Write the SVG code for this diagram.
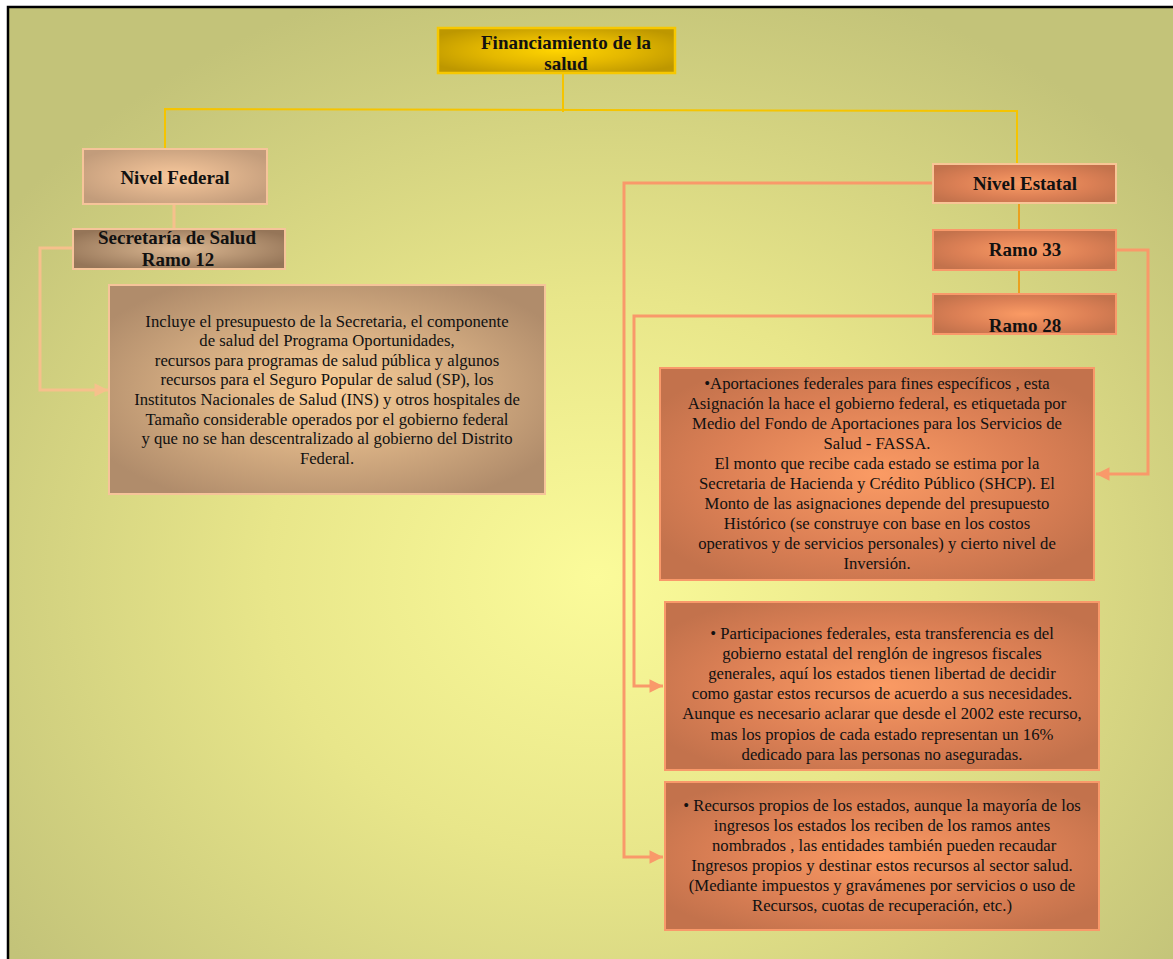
<svg xmlns="http://www.w3.org/2000/svg" width="1173" height="959" viewBox="0 0 1173 959">
  <defs>
    <radialGradient id="bg" cx="0.5" cy="0.57" r="0.62" fx="0.49" fy="0.57">
      <stop offset="0" stop-color="#fbfb9a"/>
      <stop offset="0.45" stop-color="#e8e68a"/>
      <stop offset="1" stop-color="#c3c379"/>
    </radialGradient>
    <radialGradient id="gold" cx="0.5" cy="0.5" r="0.6">
      <stop offset="0" stop-color="#ffd400"/>
      <stop offset="0.5" stop-color="#e4b800"/>
      <stop offset="1" stop-color="#bd9700"/>
    </radialGradient>
    <radialGradient id="tan" cx="0.5" cy="0.5" r="0.6">
      <stop offset="0" stop-color="#f8c89c"/>
      <stop offset="1" stop-color="#c29c7b"/>
    </radialGradient>
    <radialGradient id="brown" cx="0.5" cy="0.5" r="0.6">
      <stop offset="0" stop-color="#dcb892"/>
      <stop offset="1" stop-color="#957558"/>
    </radialGradient>
    <radialGradient id="peach" cx="0.5" cy="0.5" r="0.6">
      <stop offset="0" stop-color="#fcd09a"/>
      <stop offset="1" stop-color="#b08c6b"/>
    </radialGradient>
    <radialGradient id="orange" cx="0.5" cy="0.5" r="0.6">
      <stop offset="0" stop-color="#fb9b64"/>
      <stop offset="0.6" stop-color="#dc8055"/>
      <stop offset="1" stop-color="#c3724c"/>
    </radialGradient>
    <marker id="arrSalmon" viewBox="0 0 10 10" refX="10" refY="5" markerWidth="5" markerHeight="4.5" orient="auto" markerUnits="strokeWidth">
      <path d="M0,0 L10,5 L0,10 Z" fill="#f9996a"/>
    </marker>
    <marker id="arrLight" viewBox="0 0 10 10" refX="10" refY="5" markerWidth="5" markerHeight="4.5" orient="auto" markerUnits="strokeWidth">
      <path d="M0,0 L10,5 L0,10 Z" fill="#f6c08c"/>
    </marker>
  </defs>
  <style>
    .t { font-family: "Liberation Serif", "Times New Roman", serif; fill: #111; text-anchor: middle; }
    .h { font-size: 19px; font-weight: bold; }
    .b { font-size: 16.7px; }
    .y { fill: none; stroke: #f5c400; stroke-width: 2; }
    .s { fill: none; stroke: #f9996a; stroke-width: 3; }
    .l { fill: none; stroke: #f6c08c; stroke-width: 3; }
    .o { fill: none; stroke: #eaa020; stroke-width: 2; }
  </style>

  <!-- page -->
  <rect x="0" y="0" width="1173" height="959" fill="#ffffff"/>
  <rect x="8" y="7" width="1200" height="1000" fill="url(#bg)" stroke="#000" stroke-width="2.5"/>

  <!-- connectors -->
  <g id="connectors">
    <path class="y" d="M563,73 V112"/>
    <path class="y" d="M165,150 V109 L1017,111 V164"/>
    <path class="l" d="M174,204 V229" stroke-width="2"/>
    <path class="l" d="M73,248 H40 V390 H108" marker-end="url(#arrLight)"/>
    <path class="o" d="M1019,203 V230"/>
    <path class="o" d="M1019,270 V294"/>
    <path class="s" d="M933,183 H624 V857 H663" marker-end="url(#arrSalmon)"/>
    <path class="s" d="M933,316 H634 V686 H663" marker-end="url(#arrSalmon)"/>
    <path class="s" d="M1116,250 H1148 V474 H1096" marker-end="url(#arrSalmon)"/>
  </g>

  <!-- root -->
  <g id="financiamiento">
    <rect x="438" y="28" width="237" height="45" fill="url(#gold)" stroke="#f7c800" stroke-width="2.5"/>
    <text class="t h" x="566" y="49">Financiamiento de la</text>
    <text class="t h" x="566" y="70">salud</text>
  </g>

  <!-- federal branch -->
  <g id="nivel-federal">
    <rect x="83" y="149" width="184" height="55" fill="url(#tan)" stroke="#f6c49a" stroke-width="2"/>
    <text class="t h" x="175" y="184">Nivel Federal</text>
  </g>
  <g id="secretaria-salud">
    <rect x="73" y="229" width="212" height="40" fill="url(#brown)" stroke="#f6c49a" stroke-width="2"/>
    <text class="t h" x="177" y="244">Secretaría de Salud</text>
    <text class="t h" x="178" y="266">Ramo 12</text>
  </g>
  <g id="ramo12-detalle">
    <rect x="109" y="285" width="436" height="209" fill="url(#peach)" stroke="#f6c49a" stroke-width="2"/>
    <text class="t b" x="327" y="327">Incluye el presupuesto de la Secretaria, el componente</text>
    <text class="t b" x="327" y="346">de salud del Programa Oportunidades,</text>
    <text class="t b" x="327" y="366">recursos para programas de salud pública y algunos</text>
    <text class="t b" x="327" y="385">recursos para el Seguro Popular de salud (SP), los</text>
    <text class="t b" x="327" y="405">Institutos Nacionales de Salud (INS) y otros hospitales de</text>
    <text class="t b" x="327" y="425">Tamaño considerable operados por el gobierno federal</text>
    <text class="t b" x="327" y="444">y que no se han descentralizado al gobierno del Distrito</text>
    <text class="t b" x="327" y="464">Federal.</text>
  </g>

  <!-- state branch -->
  <g id="nivel-estatal">
    <rect x="933" y="164" width="183" height="39" fill="url(#orange)" stroke="#f9c596" stroke-width="2"/>
    <text class="t h" x="1025" y="190">Nivel Estatal</text>
  </g>
  <g id="ramo-33">
    <rect x="933" y="230" width="183" height="40" fill="url(#orange)" stroke="#f9996a" stroke-width="2"/>
    <text class="t h" x="1025" y="256">Ramo 33</text>
  </g>
  <g id="ramo-28">
    <rect x="933" y="294" width="183" height="40" fill="url(#orange)" stroke="#f9996a" stroke-width="2"/>
    <text class="t h" x="1025" y="332">Ramo 28</text>
  </g>
  <g id="aportaciones">
    <rect x="660" y="368" width="434" height="212" fill="url(#orange)" stroke="#f9996a" stroke-width="2"/>
    <text class="t b" x="877" y="389">•Aportaciones federales para fines específicos , esta</text>
    <text class="t b" x="877" y="409">Asignación la hace el gobierno federal, es etiquetada por</text>
    <text class="t b" x="877" y="429">Medio del Fondo de Aportaciones para los Servicios de</text>
    <text class="t b" x="877" y="449">Salud - FASSA.</text>
    <text class="t b" x="877" y="469">El monto que recibe cada estado se estima por la</text>
    <text class="t b" x="877" y="489">Secretaria de Hacienda y Crédito Público (SHCP). El</text>
    <text class="t b" x="877" y="509">Monto de las asignaciones depende del presupuesto</text>
    <text class="t b" x="877" y="529">Histórico (se construye con base en los costos</text>
    <text class="t b" x="877" y="549">operativos y de servicios personales) y cierto nivel de</text>
    <text class="t b" x="877" y="569">Inversión.</text>
  </g>
  <g id="participaciones">
    <rect x="665" y="602" width="434" height="168" fill="url(#orange)" stroke="#f9996a" stroke-width="2"/>
    <text class="t b" x="882" y="639">• Participaciones federales, esta transferencia es del</text>
    <text class="t b" x="882" y="659">gobierno estatal del renglón de ingresos fiscales</text>
    <text class="t b" x="882" y="679">generales, aquí los estados tienen libertad de decidir</text>
    <text class="t b" x="882" y="699">como gastar estos recursos de acuerdo a sus necesidades.</text>
    <text class="t b" x="882" y="719">Aunque es necesario aclarar que desde el 2002 este recurso,</text>
    <text class="t b" x="882" y="740">mas los propios de cada estado representan un 16%</text>
    <text class="t b" x="882" y="760">dedicado para las personas no aseguradas.</text>
  </g>
  <g id="recursos-propios">
    <rect x="665" y="782" width="434" height="148" fill="url(#orange)" stroke="#f9996a" stroke-width="2"/>
    <text class="t b" x="882" y="811">• Recursos propios de los estados, aunque la mayoría de los</text>
    <text class="t b" x="882" y="831">ingresos los estados los reciben de los ramos antes</text>
    <text class="t b" x="882" y="851" xml:space="preserve"> nombrados , las entidades también pueden recaudar</text>
    <text class="t b" x="882" y="871">Ingresos propios y destinar estos recursos al sector salud.</text>
    <text class="t b" x="882" y="891">(Mediante impuestos y gravámenes por servicios o uso de</text>
    <text class="t b" x="882" y="911">Recursos, cuotas de recuperación, etc.)</text>
  </g>
</svg>
